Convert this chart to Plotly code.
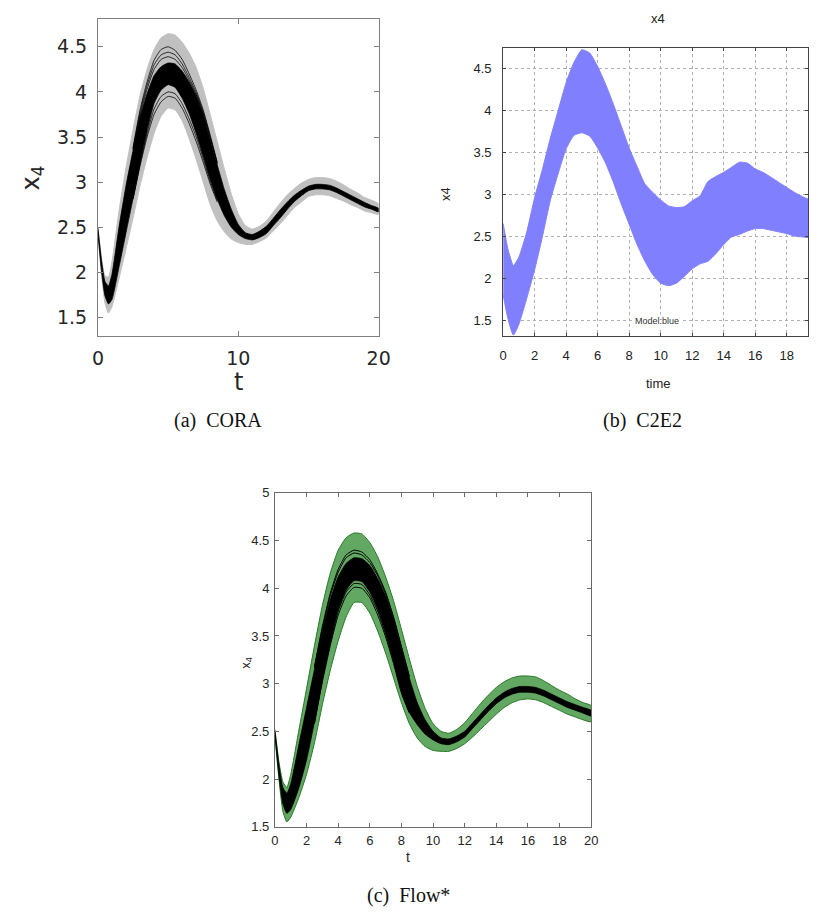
import plotly.graph_objects as go

# ---------------- data ----------------
T = [0, 0.25, 0.5, 0.75, 1, 1.5, 2, 2.5, 3, 3.5, 4, 4.5, 5, 5.5, 6, 6.5, 7, 7.5, 8, 8.5,
     9, 9.5, 10, 10.5, 11, 11.5, 12, 12.5, 13, 13.5, 14, 14.5, 15, 15.5, 16, 16.5, 17,
     17.5, 18, 18.5, 19, 19.5, 20]

# (a) CORA : grey reachable set and black simulation bundle
cora_set_hi = [2.50, 2.16, 1.96, 1.95, 2.12, 2.68, 3.16, 3.58, 3.96, 4.25, 4.47, 4.60, 4.645,
               4.63, 4.55, 4.43, 4.27, 4.04, 3.75, 3.45, 3.15, 2.87, 2.65, 2.52, 2.48, 2.51,
               2.57, 2.67, 2.77, 2.86, 2.93, 2.99, 3.03, 3.05, 3.05, 3.04, 3.01, 2.97, 2.92,
               2.88, 2.83, 2.80, 2.76]
cora_set_lo = [2.42, 1.98, 1.66, 1.55, 1.62, 1.93, 2.26, 2.60, 2.96, 3.27, 3.54, 3.73, 3.82,
               3.80, 3.68, 3.48, 3.25, 3.00, 2.75, 2.57, 2.45, 2.37, 2.33, 2.31, 2.31, 2.34,
               2.38, 2.46, 2.54, 2.63, 2.72, 2.78, 2.84, 2.86, 2.86, 2.85, 2.82, 2.79, 2.75,
               2.72, 2.68, 2.66, 2.64]
cora_sim_hi = [2.49, 2.14, 1.90, 1.85, 1.98, 2.50, 2.96, 3.35, 3.72, 3.98, 4.18, 4.28, 4.32,
               4.31, 4.23, 4.11, 3.96, 3.75, 3.47, 3.19, 2.92, 2.70, 2.53, 2.44, 2.42, 2.455,
               2.51, 2.60, 2.695, 2.78, 2.855, 2.91, 2.955, 2.975, 2.975, 2.965, 2.935, 2.895,
               2.855, 2.815, 2.775, 2.74, 2.71]
cora_sim_lo = [2.43, 2.02, 1.74, 1.65, 1.70, 2.06, 2.44, 2.82, 3.21, 3.57, 3.87, 4.02, 4.08,
               4.05, 3.93, 3.76, 3.54, 3.29, 3.03, 2.81, 2.63, 2.50, 2.42, 2.375, 2.36, 2.385,
               2.43, 2.52, 2.605, 2.70, 2.785, 2.85, 2.905, 2.925, 2.925, 2.915, 2.885, 2.845,
               2.805, 2.765, 2.725, 2.70, 2.67]
T_PEAK = [2.5, 3, 3.5, 4, 4.5, 5, 5.5, 6, 6.5, 7, 7.5, 8, 8.5]
cora_peak_runs = [
    [3.38, 3.80, 4.11, 4.35, 4.47, 4.50, 4.46, 4.36, 4.20, 4.02, 3.80, 3.52, 3.22],
    [3.37, 3.77, 4.07, 4.30, 4.41, 4.44, 4.41, 4.31, 4.16, 3.99, 3.78, 3.50, 3.21],
    [3.36, 3.74, 4.03, 4.25, 4.36, 4.39, 4.36, 4.27, 4.13, 3.97, 3.76, 3.49, 3.20],
    [2.82, 3.20, 3.54, 3.81, 3.95, 4.00, 3.98, 3.87, 3.70, 3.50, 3.26, 3.01, 2.80],
    [2.81, 3.18, 3.50, 3.75, 3.89, 3.95, 3.93, 3.82, 3.65, 3.45, 3.22, 2.98, 2.78],
]

# (b) C2E2 : blue reachable tube
T_C2E2 = [0, 0.3, 0.65, 1, 1.5, 2, 2.5, 3, 3.5, 4, 4.5, 5, 5.5, 6, 6.5, 7, 7.5, 8, 8.5, 9,
          9.5, 10, 10.5, 11, 11.5, 12, 12.5, 13, 13.5, 14, 14.5, 15, 15.5, 16, 16.5, 17,
          17.5, 18, 18.5, 19, 19.5, 20]
c2e2_hi = [2.65, 2.35, 2.15, 2.25, 2.55, 2.96, 3.30, 3.67, 4.00, 4.33, 4.57, 4.72, 4.68,
           4.52, 4.31, 4.07, 3.81, 3.55, 3.33, 3.12, 3.02, 2.93, 2.86, 2.84, 2.85, 2.92,
           2.98, 3.15, 3.21, 3.26, 3.32, 3.38, 3.37, 3.30, 3.26, 3.20, 3.14, 3.08, 3.02,
           2.97, 2.93, 2.90]
c2e2_lo = [1.80, 1.52, 1.32, 1.45, 1.76, 2.10, 2.50, 2.93, 3.25, 3.54, 3.70, 3.73, 3.69,
           3.55, 3.37, 3.14, 2.88, 2.64, 2.40, 2.20, 2.04, 1.94, 1.91, 1.94, 2.02, 2.11,
           2.17, 2.20, 2.29, 2.40, 2.49, 2.52, 2.56, 2.59, 2.59, 2.57, 2.55, 2.53, 2.50,
           2.49, 2.48, 2.47]

# (c) Flow* : green flowpipes and black simulation bundle
flow_set_hi = [2.52, 2.18, 1.97, 1.91, 2.05, 2.50, 2.95, 3.40, 3.82, 4.16, 4.40, 4.53, 4.58,
               4.57, 4.48, 4.33, 4.12, 3.87, 3.57, 3.26, 2.97, 2.74, 2.58, 2.50, 2.48, 2.52,
               2.59, 2.69, 2.79, 2.88, 2.96, 3.02, 3.06, 3.08, 3.08, 3.07, 3.03, 2.98, 2.93,
               2.89, 2.84, 2.80, 2.77]
flow_set_lo = [2.44, 2.00, 1.66, 1.55, 1.60, 1.80, 2.05, 2.38, 2.78, 3.14, 3.45, 3.70, 3.85,
               3.85, 3.74, 3.55, 3.32, 3.06, 2.80, 2.58, 2.43, 2.34, 2.30, 2.29, 2.29, 2.32,
               2.37, 2.44, 2.52, 2.60, 2.68, 2.75, 2.80, 2.83, 2.84, 2.83, 2.80, 2.76, 2.72,
               2.68, 2.65, 2.62, 2.60]
flow_sim_hi = [2.50, 2.15, 1.91, 1.85, 1.95, 2.35, 2.75, 3.15, 3.55, 3.88, 4.12, 4.26, 4.32,
               4.31, 4.24, 4.10, 3.92, 3.67, 3.36, 3.06, 2.80, 2.62, 2.50, 2.43, 2.42, 2.45,
               2.50, 2.59, 2.68, 2.77, 2.85, 2.91, 2.95, 2.97, 2.97, 2.96, 2.93, 2.89, 2.85,
               2.81, 2.78, 2.75, 2.72]
flow_sim_lo = [2.46, 2.04, 1.74, 1.64, 1.68, 1.90, 2.20, 2.60, 3.05, 3.44, 3.78, 3.98, 4.08,
               4.07, 3.96, 3.78, 3.54, 3.25, 2.92, 2.70, 2.57, 2.47, 2.41, 2.37, 2.36, 2.39,
               2.44, 2.53, 2.62, 2.71, 2.79, 2.85, 2.89, 2.91, 2.91, 2.90, 2.87, 2.83, 2.79,
               2.75, 2.72, 2.69, 2.66]
flow_peak_runs = [
    [3.18, 3.60, 3.95, 4.20, 4.35, 4.40, 4.38, 4.30, 4.15, 3.96, 3.70, 3.39, 3.08],
    [3.17, 3.58, 3.92, 4.17, 4.32, 4.37, 4.35, 4.27, 4.13, 3.94, 3.69, 3.38, 3.07],
    [2.60, 3.04, 3.43, 3.76, 3.96, 4.05, 4.04, 3.93, 3.76, 3.52, 3.24, 2.92, 2.70],
    [2.58, 3.02, 3.40, 3.72, 3.92, 4.01, 4.00, 3.90, 3.72, 3.49, 3.21, 2.90, 2.69],
]

CORA_YTICKS = [1.5, 2, 2.5, 3, 3.5, 4, 4.5]
CORA_XTICKS = [0, 10, 20]
C2E2_YTICKS = [1.5, 2, 2.5, 3, 3.5, 4, 4.5]
C2E2_XTICKS = [0, 2, 4, 6, 8, 10, 12, 14, 16, 18]
FLOW_YTICKS = [1.5, 2, 2.5, 3, 3.5, 4, 4.5, 5]
FLOW_XTICKS = [0, 2, 4, 6, 8, 10, 12, 14, 16, 18, 20]

# ---------------- figure ----------------
W, H = 820, 918
fig = go.Figure()


def band(x, hi, lo, fill, line, lw, xa, ya):
    fig.add_trace(go.Scatter(
        x=list(x) + list(x)[::-1], y=list(hi) + list(lo)[::-1],
        fill='toself', fillcolor=fill, mode='lines',
        line=dict(color=line, width=lw, shape='spline', smoothing=0.5),
        xaxis=xa, yaxis=ya, hoverinfo='skip', showlegend=False))


def run(x, y, xa, ya, lw=0.8):
    fig.add_trace(go.Scatter(
        x=x, y=y, mode='lines', line=dict(color='black', width=lw, shape='spline', smoothing=0.5),
        xaxis=xa, yaxis=ya, hoverinfo='skip', showlegend=False))


# (a) CORA
band(T, cora_set_hi, cora_set_lo, 'rgb(192,192,192)', 'rgb(192,192,192)', 1, 'x', 'y')
band(T, cora_sim_hi, cora_sim_lo, 'black', 'black', 0.8, 'x', 'y')
for r in cora_peak_runs:
    run(T_PEAK, r, 'x', 'y')

# (b) C2E2
band(T_C2E2, c2e2_hi, c2e2_lo, 'rgb(128,128,255)', 'rgb(128,128,255)', 1, 'x2', 'y2')

# (c) Flow*
band(T, flow_set_hi, flow_set_lo, 'rgb(98,168,98)', 'rgb(40,120,40)', 1, 'x3', 'y3')
band(T, flow_sim_hi, flow_sim_lo, 'black', 'black', 0.8, 'x3', 'y3')
for r in flow_peak_runs:
    run(T_PEAK, r, 'x3', 'y3', 1.0)


def px(X):
    return X / W


def py(Y):
    return 1 - Y / H


def fmt(v):
    return ('%g' % v)


cora_font = dict(family='DejaVu Sans', size=19, color='#262626')
c2e2_font = dict(family='Liberation Sans Narrow, Liberation Sans', size=13, color='#222222')
flow_font = dict(family='Liberation Sans Narrow, Liberation Sans', size=13, color='#262626')

fig.update_layout(
    width=W, height=H, margin=dict(l=0, r=0, t=0, b=0),
    paper_bgcolor='white', plot_bgcolor='white', showlegend=False,
    xaxis=dict(domain=[px(94), px(381)], range=[0, 20], anchor='y',
               tickvals=CORA_XTICKS, ticktext=[fmt(v) for v in CORA_XTICKS],
               ticks='inside', ticklen=5, tickcolor='#808080', mirror='ticks',
               showline=True, linecolor='#808080', linewidth=1, showgrid=False,
               zeroline=False, tickfont=cora_font, ticklabelstandoff=6),
    yaxis=dict(domain=[py(334), py(12)], range=[1.30, 4.81], anchor='x',
               tickvals=CORA_YTICKS, ticktext=[fmt(v) for v in CORA_YTICKS],
               ticks='inside', ticklen=5, tickcolor='#808080', mirror='ticks',
               showline=True, linecolor='#808080', linewidth=1, showgrid=False,
               zeroline=False, tickfont=cora_font, ticklabelstandoff=6),
    xaxis2=dict(domain=[px(508.3), 1.0], range=[0, 19.35], anchor='y2',
                tickvals=C2E2_XTICKS, ticktext=[fmt(v) for v in C2E2_XTICKS],
                ticks='inside', ticklen=3, tickcolor='#444444', mirror='ticks',
                showline=True, linecolor='#444444', linewidth=1,
                showgrid=True, gridcolor='#b0b0b0', griddash='dot', gridwidth=1,
                zeroline=False, tickfont=c2e2_font, ticklabelstandoff=8),
    yaxis2=dict(domain=[py(334), py(41.7)], range=[1.316, 4.74], anchor='x2',
                tickvals=C2E2_YTICKS, ticktext=[fmt(v) for v in C2E2_YTICKS],
                ticks='inside', ticklen=3, tickcolor='#444444', mirror='ticks',
                showline=True, linecolor='#444444', linewidth=1,
                showgrid=True, gridcolor='#b0b0b0', griddash='dot', gridwidth=1,
                zeroline=False, tickfont=c2e2_font, ticklabelstandoff=8),
    xaxis3=dict(domain=[px(275), px(598.3)], range=[0, 20], anchor='y3',
                tickvals=FLOW_XTICKS, ticktext=[fmt(v) for v in FLOW_XTICKS],
                ticks='inside', ticklen=4, tickcolor='#6a6a6a', mirror='ticks',
                showline=True, linecolor='#6a6a6a', linewidth=1, showgrid=False,
                zeroline=False, tickfont=flow_font, ticklabelstandoff=2),
    yaxis3=dict(domain=[py(833.3), py(494)], range=[1.5, 5], anchor='x3',
                tickvals=FLOW_YTICKS, ticktext=[fmt(v) for v in FLOW_YTICKS],
                ticks='inside', ticklen=4, tickcolor='#6a6a6a', mirror='ticks',
                showline=True, linecolor='#6a6a6a', linewidth=1, showgrid=False,
                zeroline=False, tickfont=flow_font, ticklabelstandoff=2),
)


def note(text, X, Y, font, angle=0, bg=None):
    d = dict(text=text, x=px(X), y=py(Y), xref='paper', yref='paper',
             xanchor='center', yanchor='middle', showarrow=False, font=font, textangle=angle)
    if bg:
        d['bgcolor'] = bg
    fig.add_annotation(**d)


sans_n = 'Liberation Sans Narrow, Liberation Sans'
# CORA titles
note('t', 237.5, 381, dict(family='DejaVu Sans', size=24, color='#262626'))
note('x<sub>4</sub>', 27, 174, dict(family='DejaVu Sans', size=24, color='#262626'), angle=-90)
# C2E2 titles
note('x4', 667, 12, dict(family=sans_n, size=13, color='#222'))
note('time', 667, 383, dict(family=sans_n, size=13, color='#222'))
note('x4', 450, 190, dict(family=sans_n, size=13, color='#222'), angle=-90)
note('Model:blue', 666, 319, dict(family=sans_n, size=9, color='#333'), bg='white')
# Flow* titles
note('t', 411, 864, dict(family=sans_n, size=14, color='#262626'))
note('x<sub>4</sub>', 245, 667, dict(family=sans_n, size=13, color='#262626'), angle=-90)

# captions
cap_font = dict(family='Liberation Serif', size=20, color='#111111')
note('(a)\u2002CORA', 217, 420, cap_font)
note('(b)\u2002C2E2', 651, 420, cap_font)
note('(c)\u2002Flow*', 412, 903, cap_font)

fig.write_html('out.html')
